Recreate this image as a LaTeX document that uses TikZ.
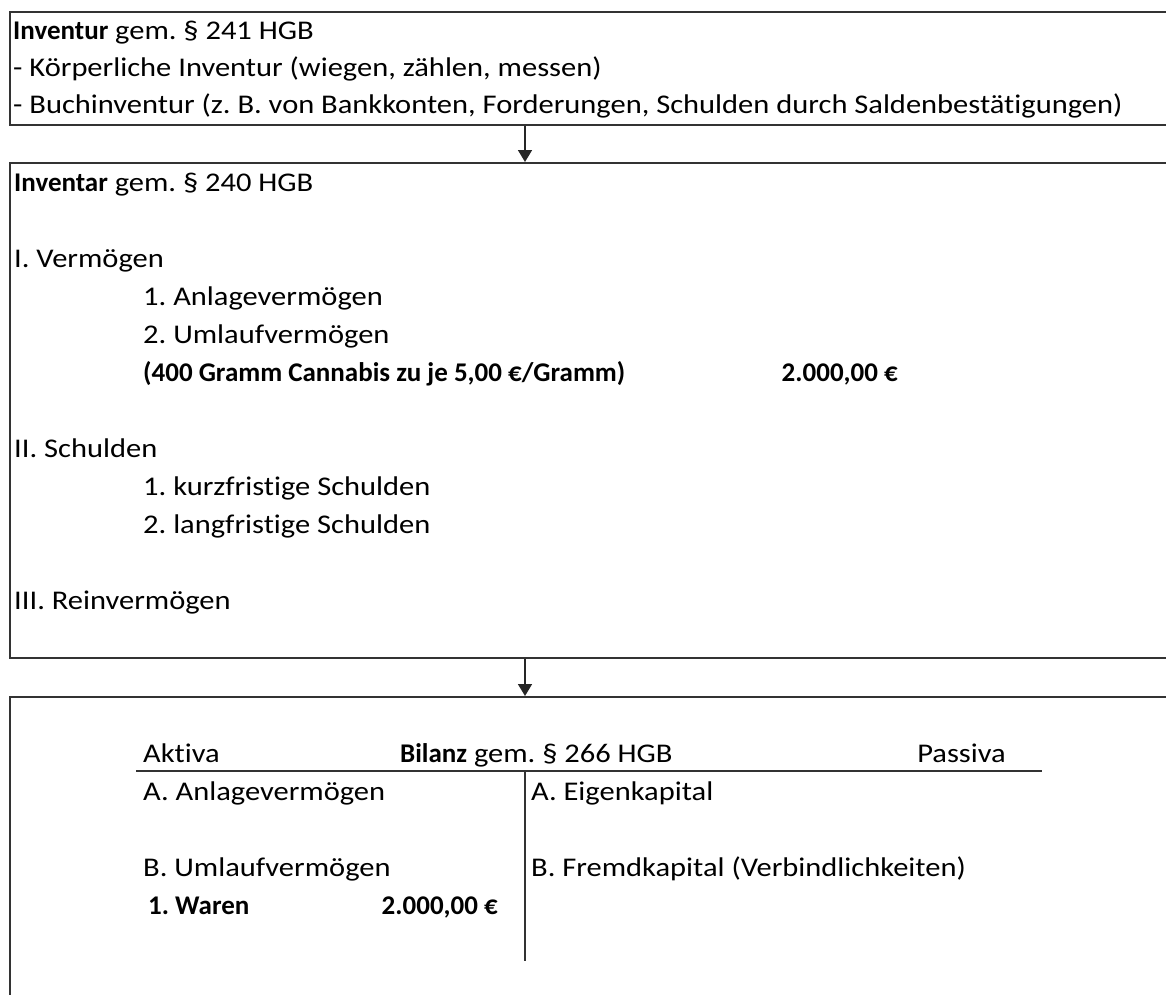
\documentclass[tikz,border=0pt]{standalone}
\usepackage{fontspec}
\setmainfont{Carlito}[Ligatures=NoCommon, UprightFeatures={FakeStretch=1.13}, BoldFeatures={FakeStretch=1.0}]
\usetikzlibrary{arrows.meta}
\frenchspacing

\tikzset{
  kasten/.style={draw=black!80, line width=1.6pt, anchor=north west, inner sep=0pt, minimum width=1200pt},
  zeile/.style={anchor=base west, inner sep=0pt, font=\fontsize{27}{32}\selectfont},
  zahl/.style={anchor=base east, inner sep=0pt, font=\fontsize{27}{32}\selectfont\bfseries},
  pfeil/.style={draw=black!85, line width=1.6pt, -{Triangle[width=14pt,length=12pt]}},
  konto/.style={draw=black!80, line width=1.6pt}
}

\begin{document}
\begin{tikzpicture}[x=1pt,y=1pt,yscale=-1]
\clip (0,0) rectangle (1166,994);
% Kaesten
\node[kasten, minimum height=113pt] (inventur) at (9,11) {};
\node[kasten, minimum height=495pt] (inventar) at (9,162) {};
\node[kasten, minimum height=400pt] (bilanz) at (9,696) {};

% Inventur
\node[zeile] (inv1) at (13,39) {\textbf{Inventur} gem. § 241 HGB};
\node[zeile] (inv2) at (13,76) {- Körperliche Inventur (wiegen, zählen, messen)};
\node[zeile] (inv3) at (13,113) {- Buchinventur (z. B. von Bankkonten, Forderungen, Schulden durch Saldenbestätigungen)};

% Inventar
\node[zeile] (ivr0) at (14,191.5) {\textbf{Inventar} gem. § 240 HGB};
\node[zeile] (ivr1) at (14,267.5) {I. Vermögen};
\node[zeile] (ivr11) at (143,305.5) {1. Anlagevermögen};
\node[zeile] (ivr12) at (143,343.5) {2. Umlaufvermögen};
\node[zeile, font=\fontsize{27}{32}\selectfont\bfseries] (ivr13) at (143,381.5) {(400 Gramm Cannabis zu je 5,00 €/Gramm)};
\node[zahl] (ivrwert) at (898,381.5) {2.000,00 €};
\node[zeile] (ivr2) at (14,457.5) {II. Schulden};
\node[zeile] (ivr21) at (143,495.5) {1. kurzfristige Schulden};
\node[zeile] (ivr22) at (143,533.5) {2. langfristige Schulden};
\node[zeile] (ivr3) at (14,609.5) {III. Reinvermögen};

% Bilanz (T-Konto)
\coordinate (tlinks) at (136,771);
\coordinate (trechts) at (1042,771);
\coordinate (tmitte) at (525,771);
\coordinate (tunten) at (525,961);
\node[zeile] (aktiva) at (143,762) {Aktiva};
\node[zeile] (titel) at (400,762) {\textbf{Bilanz} gem. § 266 HGB};
\node[zeile, anchor=base east] (passiva) at (1006,762) {Passiva};
\node[zeile] (akta) at (143,800) {A. Anlagevermögen};
\node[zeile] (aktb) at (143,876) {B. Umlaufvermögen};
\node[zeile, font=\fontsize{27}{32}\selectfont\bfseries] (waren) at (148,914) {1. Waren};
\node[zahl] (warenwert) at (498,914) {2.000,00 €};
\node[zeile] (pasa) at (531,800) {A. Eigenkapital};
\node[zeile] (pasb) at (531,876) {B. Fremdkapital (Verbindlichkeiten)};
\draw[konto] (tlinks) -- (trechts);
\draw[konto] (tmitte) -- (tunten);

% Pfeile
\draw[pfeil] (inventur.south -| tmitte) -- (inventar.north -| tmitte);
\draw[pfeil] (inventar.south -| tmitte) -- (bilanz.north -| tmitte);
\end{tikzpicture}
\end{document}
